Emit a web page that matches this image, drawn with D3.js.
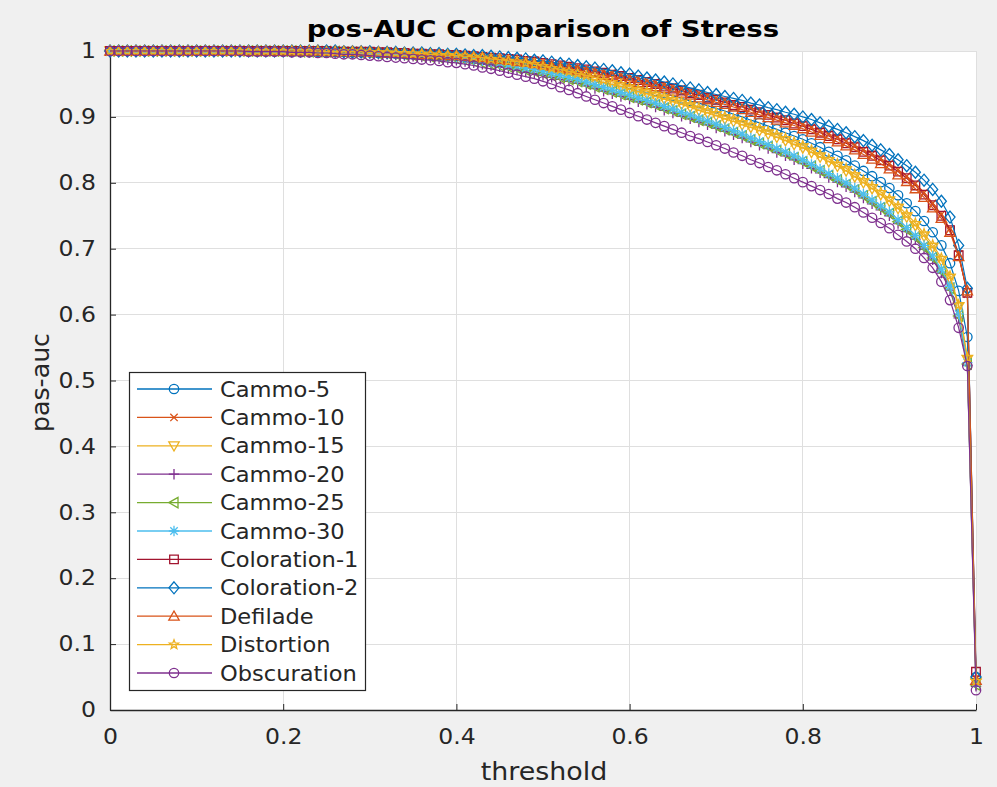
<!DOCTYPE html>
<html><head><meta charset="utf-8">
<script src="https://cdn.jsdelivr.net/npm/d3@7/dist/d3.min.js"></script>
<style>body{margin:0;background:#f0f0f0;}svg{display:block;font-family:"DejaVu Sans",sans-serif;}</style>
</head><body>
<svg id="chart" width="997" height="787"></svg>
<script>
const thresholds = [0,0.01,0.02,0.03,0.04,0.05,0.06,0.07,0.08,0.09,
0.1,0.11,0.12,0.13,0.14,0.15,0.16,0.17,0.18,0.19,
0.2,0.21,0.22,0.23,0.24,0.25,0.26,0.27,0.28,0.29,
0.3,0.31,0.32,0.33,0.34,0.35,0.36,0.37,0.38,0.39,
0.4,0.41,0.42,0.43,0.44,0.45,0.46,0.47,0.48,0.49,
0.5,0.51,0.52,0.53,0.54,0.55,0.56,0.57,0.58,0.59,
0.6,0.61,0.62,0.63,0.64,0.65,0.66,0.67,0.68,0.69,
0.7,0.71,0.72,0.73,0.74,0.75,0.76,0.77,0.78,0.79,
0.8,0.81,0.82,0.83,0.84,0.85,0.86,0.87,0.88,0.89,
0.9,0.91,0.92,0.93,0.94,0.95,0.96,0.97,0.98,0.99,1];

const seriesNames = ["Cammo-5","Cammo-10","Cammo-15","Cammo-20","Cammo-25","Cammo-30","Coloration-1","Coloration-2","Defilade","Distortion","Obscuration"];
const seriesColors = ["#0072BD","#D95319","#EDB120","#7E2F8E","#77AC30","#4DBEEE","#A2142F","#0072BD","#D95319","#EDB120","#7E2F8E"];
const seriesMarkers = ["o","x","v","+","<","*","s","d","^","p","o"];

const cammo5 = [1,1,1,1,1,1,1,1,1,1, 1,1,1,1,1,1,1,1,1,1,
1,1,1,1,0.999,0.999,0.999,0.999,0.998,0.998,
0.998,0.997,0.997,0.996,0.996,0.995,0.995,0.994,0.993,0.993,
0.992,0.991,0.990,0.988,0.987,0.986,0.984,0.983,0.981,0.979,
0.977,0.975,0.973,0.970,0.968,0.965,0.962,0.959,0.956,0.953,
0.950,0.946,0.943,0.939,0.936,0.932,0.928,0.924,0.921,0.917,
0.913,0.909,0.904,0.900,0.895,0.891,0.886,0.881,0.876,0.871,
0.866,0.860,0.854,0.847,0.841,0.834,0.826,0.818,0.810,0.801,
0.792,0.781,0.769,0.757,0.742,0.725,0.705,0.678,0.636,0.566,
0.050];
const cammo10 = [1,1,1,1,1,1,1,1,1,1, 1,1,1,1,1,1,1,1,1,1,
1,1,1,1,1,1,1,0.999,0.999,0.999,
0.999,0.999,0.998,0.998,0.997,0.997,0.996,0.996,0.995,0.995,
0.995,0.994,0.993,0.992,0.991,0.990,0.989,0.988,0.987,0.986,
0.984,0.982,0.980,0.978,0.976,0.974,0.972,0.969,0.967,0.964,
0.962,0.959,0.956,0.953,0.949,0.946,0.943,0.939,0.936,0.932,
0.929,0.925,0.921,0.918,0.914,0.910,0.906,0.902,0.898,0.893,
0.889,0.884,0.879,0.874,0.869,0.863,0.857,0.850,0.844,0.837,
0.829,0.820,0.810,0.799,0.785,0.769,0.752,0.730,0.692,0.631,
0.048];
const cammo15 = [1,1,1,1,1,1,1,1,1,1, 1,1,1,1,1,1,1,1,1,1,
1,1,1,0.999,0.999,0.999,0.999,0.999,0.998,0.998,
0.998,0.997,0.997,0.996,0.995,0.995,0.994,0.993,0.993,0.992,
0.991,0.990,0.988,0.987,0.985,0.984,0.982,0.980,0.978,0.976,
0.973,0.970,0.968,0.965,0.962,0.959,0.956,0.952,0.949,0.946,
0.942,0.938,0.935,0.931,0.927,0.923,0.919,0.915,0.910,0.906,
0.902,0.897,0.893,0.888,0.884,0.879,0.874,0.869,0.864,0.858,
0.853,0.846,0.839,0.832,0.825,0.818,0.809,0.800,0.791,0.782,
0.772,0.761,0.748,0.735,0.719,0.702,0.682,0.655,0.612,0.532,
0.042];
const cammo20 = [1,1,1,1,1,1,1,1,1,1, 1,1,1,1,1,1,1,1,1,1,
1,1,0.999,0.999,0.999,0.998,0.998,0.998,0.997,0.997,
0.996,0.995,0.995,0.994,0.993,0.992,0.991,0.990,0.988,0.987,
0.986,0.984,0.982,0.980,0.978,0.976,0.973,0.971,0.968,0.966,
0.963,0.960,0.957,0.954,0.951,0.947,0.943,0.939,0.935,0.931,
0.927,0.923,0.919,0.915,0.910,0.906,0.901,0.897,0.892,0.888,
0.883,0.878,0.873,0.868,0.862,0.857,0.852,0.846,0.841,0.835,
0.829,0.822,0.815,0.808,0.801,0.794,0.786,0.777,0.768,0.759,
0.750,0.738,0.726,0.714,0.699,0.683,0.663,0.637,0.595,0.523,
0.036];
const cammo25 = [1,1,1,1,1,1,1,1,1,1, 1,1,1,1,1,1,1,1,1,1,
1,1,0.999,0.999,0.999,0.999,0.999,0.998,0.998,0.997,
0.997,0.996,0.996,0.995,0.994,0.993,0.992,0.991,0.990,0.989,
0.988,0.986,0.984,0.982,0.980,0.978,0.976,0.974,0.971,0.969,
0.966,0.963,0.960,0.957,0.954,0.950,0.946,0.942,0.938,0.934,
0.930,0.926,0.922,0.918,0.913,0.909,0.904,0.900,0.895,0.891,
0.886,0.881,0.876,0.871,0.865,0.860,0.855,0.849,0.844,0.838,
0.832,0.825,0.818,0.811,0.804,0.797,0.789,0.780,0.771,0.762,
0.753,0.741,0.729,0.717,0.702,0.686,0.666,0.640,0.598,0.525,
0.038];
const cammo30 = [1,1,1,1,1,1,1,1,1,1, 1,1,1,1,1,1,1,1,1,1,
1,1,1,0.999,0.999,0.999,0.999,0.999,0.998,0.998,
0.998,0.997,0.997,0.996,0.995,0.995,0.994,0.993,0.992,0.991,
0.990,0.988,0.987,0.985,0.983,0.981,0.979,0.977,0.974,0.972,
0.969,0.966,0.963,0.960,0.957,0.953,0.949,0.945,0.941,0.937,
0.933,0.929,0.925,0.921,0.916,0.912,0.907,0.903,0.898,0.894,
0.889,0.884,0.879,0.874,0.868,0.863,0.858,0.852,0.847,0.841,
0.835,0.828,0.821,0.814,0.807,0.800,0.792,0.783,0.774,0.765,
0.756,0.744,0.732,0.720,0.705,0.689,0.669,0.643,0.601,0.527,
0.040];
const coloration1 = [1,1,1,1,1,1,1,1,1,1, 1,1,1,1,1,1,1,1,1,1,
1,1,1,1,1,1,0.999,0.999,0.999,0.999,
0.999,0.998,0.998,0.997,0.997,0.996,0.996,0.995,0.995,0.994,
0.994,0.993,0.992,0.991,0.990,0.989,0.988,0.987,0.985,0.984,
0.982,0.980,0.978,0.976,0.974,0.972,0.969,0.967,0.964,0.962,
0.959,0.956,0.953,0.950,0.946,0.943,0.940,0.936,0.933,0.929,
0.926,0.922,0.918,0.915,0.911,0.907,0.903,0.899,0.895,0.890,
0.886,0.881,0.876,0.871,0.866,0.860,0.854,0.847,0.841,0.834,
0.826,0.817,0.807,0.796,0.782,0.766,0.750,0.728,0.690,0.633,
0.058];
const coloration2 = [1,1,1,1,1,1,1,1,1,1, 1,1,1,1,1,1,1,1,1,1,
1,1,1,1,1,1,1,0.999,0.999,0.999,
0.999,0.998,0.998,0.998,0.997,0.997,0.997,0.996,0.996,0.995,
0.995,0.994,0.993,0.993,0.992,0.991,0.990,0.989,0.988,0.986,
0.985,0.983,0.981,0.980,0.978,0.976,0.974,0.972,0.970,0.967,
0.965,0.962,0.959,0.956,0.953,0.950,0.947,0.944,0.941,0.937,
0.934,0.931,0.928,0.925,0.921,0.918,0.914,0.911,0.907,0.904,
0.900,0.896,0.891,0.886,0.881,0.876,0.870,0.864,0.857,0.850,
0.843,0.835,0.826,0.816,0.804,0.790,0.772,0.748,0.705,0.640,
0.050];
const defilade = [1,1,1,1,1,1,1,1,1,1, 1,1,1,1,1,1,1,1,1,1,
1,1,1,1,1,0.999,0.999,0.999,0.999,0.999,
0.998,0.998,0.997,0.997,0.996,0.996,0.995,0.995,0.994,0.993,
0.993,0.992,0.991,0.990,0.988,0.987,0.986,0.984,0.983,0.981,
0.979,0.977,0.975,0.973,0.971,0.968,0.966,0.963,0.961,0.958,
0.955,0.952,0.949,0.946,0.943,0.939,0.936,0.933,0.929,0.926,
0.922,0.919,0.915,0.911,0.907,0.903,0.899,0.895,0.891,0.887,
0.882,0.877,0.872,0.867,0.862,0.856,0.850,0.843,0.836,0.829,
0.821,0.812,0.802,0.791,0.778,0.762,0.746,0.725,0.688,0.636,
0.045];
const distortion = [1,1,1,1,1,1,1,1,1,1, 1,1,1,1,1,1,1,1,1,1,
1,1,1,1,1,0.999,0.999,0.999,0.999,0.999,
0.998,0.998,0.998,0.997,0.997,0.996,0.996,0.995,0.994,0.994,
0.993,0.992,0.991,0.990,0.988,0.987,0.985,0.984,0.982,0.980,
0.977,0.974,0.972,0.969,0.966,0.963,0.960,0.956,0.953,0.950,
0.946,0.942,0.939,0.935,0.931,0.927,0.923,0.919,0.914,0.910,
0.906,0.901,0.897,0.892,0.888,0.883,0.878,0.873,0.868,0.862,
0.857,0.850,0.843,0.836,0.829,0.822,0.813,0.804,0.795,0.786,
0.776,0.765,0.752,0.739,0.723,0.706,0.686,0.659,0.615,0.535,
0.044];
const obscuration = [1,1,1,1,1,1,1,1,1,1,
1,1,1,1,1,1,0.999,0.999,0.999,0.999,
0.999,0.998,0.998,0.998,0.997,0.997,0.996,0.995,0.995,0.994,
0.993,0.992,0.991,0.990,0.989,0.988,0.987,0.986,0.985,0.983,
0.982,0.980,0.978,0.975,0.973,0.970,0.967,0.964,0.961,0.958,
0.954,0.950,0.945,0.941,0.936,0.931,0.926,0.921,0.916,0.911,
0.906,0.901,0.896,0.891,0.886,0.881,0.876,0.871,0.867,0.862,
0.857,0.852,0.846,0.841,0.835,0.830,0.824,0.819,0.813,0.807,
0.801,0.795,0.789,0.783,0.776,0.770,0.763,0.755,0.747,0.739,
0.731,0.721,0.711,0.700,0.686,0.671,0.650,0.622,0.580,0.522,
0.030];

const seriesValues = [cammo5,cammo10,cammo15,cammo20,cammo25,cammo30,coloration1,coloration2,defilade,distortion,obscuration];
const xTicks = [0,0.2,0.4,0.6,0.8,1];
const xTickLabels = ["0","0.2","0.4","0.6","0.8","1"];
const yTicks = [0,0.1,0.2,0.3,0.4,0.5,0.6,0.7,0.8,0.9,1];
const yTickLabels = ["0","0.1","0.2","0.3","0.4","0.5","0.6","0.7","0.8","0.9","1"];

const W = 997, H = 787;
const m = {left:110, right:976, top:51, bottom:710};
const svg = d3.select("#chart");
svg.append("rect").attr("width",W).attr("height",H).attr("fill","#f0f0f0");
svg.append("rect").attr("x",m.left).attr("y",m.top).attr("width",m.right-m.left).attr("height",m.bottom-m.top).attr("fill","#ffffff");

const x = d3.scaleLinear().domain([0,1]).range([m.left,m.right]);
const y = d3.scaleLinear().domain([0,1]).range([m.bottom,m.top]);

// horizontally widen text (reference glyphs are wider than DejaVu at same height)
function widen(sel, k){
  sel.each(function(){
    const L = this.getComputedTextLength();
    this.setAttribute("textLength", (L*k).toFixed(1));
    this.setAttribute("lengthAdjust","spacingAndGlyphs");
  });
}

// grid
const grid = svg.append("g");
grid.selectAll(".gx").data(xTicks).enter().append("line")
  .attr("x1",d=>x(d)).attr("x2",d=>x(d)).attr("y1",m.top).attr("y2",m.bottom)
  .attr("stroke","#dfdfdf").attr("stroke-width",1).attr("shape-rendering","crispEdges");
grid.selectAll(".gy").data(yTicks).enter().append("line")
  .attr("y1",d=>y(d)).attr("y2",d=>y(d)).attr("x1",m.left).attr("x2",m.right)
  .attr("stroke","#dfdfdf").attr("stroke-width",1).attr("shape-rendering","crispEdges");

// axes
const axisColor = "#262626";
const gx = svg.append("g").attr("transform",`translate(0,${m.bottom})`)
  .call(d3.axisBottom(x).tickValues(xTicks).tickFormat((d,i)=>xTickLabels[i]).tickSizeInner(-6).tickSizeOuter(0).tickPadding(19));
const gy = svg.append("g").attr("transform",`translate(${m.left},0)`)
  .call(d3.axisLeft(y).tickValues(yTicks).tickFormat((d,i)=>yTickLabels[i]).tickSizeInner(-6).tickSizeOuter(0).tickPadding(14));
[gx,gy].forEach(g=>{
  g.select(".domain").attr("stroke",axisColor).attr("stroke-width",1.3);
  g.selectAll(".tick line").attr("stroke",axisColor).attr("stroke-width",1);
  g.selectAll(".tick text").attr("fill","#262626").attr("font-size",21).attr("font-family","DejaVu Sans");
  widen(g.selectAll(".tick text"),1.12);
});

// marker paths
function markerPath(type){
  const p = d3.path();
  switch(type){
    case "o": p.moveTo(4.7,0); p.arc(0,0,4.7,0,2*Math.PI); break;
    case "x": p.moveTo(-3.7,-3.7); p.lineTo(3.7,3.7); p.moveTo(-3.7,3.7); p.lineTo(3.7,-3.7); break;
    case "v": p.moveTo(-5.2,-4); p.lineTo(5.2,-4); p.lineTo(0,5.2); p.closePath(); break;
    case "+": p.moveTo(-5.2,0); p.lineTo(5.2,0); p.moveTo(0,-5.2); p.lineTo(0,5.2); break;
    case "<": p.moveTo(4,-5.2); p.lineTo(4,5.2); p.lineTo(-5.2,0); p.closePath(); break;
    case "*": p.moveTo(-5.2,0); p.lineTo(5.2,0); p.moveTo(0,-5.2); p.lineTo(0,5.2);
              p.moveTo(-3.7,-3.7); p.lineTo(3.7,3.7); p.moveTo(-3.7,3.7); p.lineTo(3.7,-3.7); break;
    case "s": p.rect(-4.3,-4.3,8.6,8.6); break;
    case "d": p.moveTo(0,-6); p.lineTo(5,0); p.lineTo(0,6); p.lineTo(-5,0); p.closePath(); break;
    case "^": p.moveTo(-5.2,4); p.lineTo(5.2,4); p.lineTo(0,-5.2); p.closePath(); break;
    case "p": {
      const R=4.8, r=2;
      for(let k=0;k<10;k++){
        const a = -Math.PI/2 + k*Math.PI/5, rr = k%2===0?R:r;
        const px = rr*Math.cos(a), py = rr*Math.sin(a);
        if(k===0) p.moveTo(px,py); else p.lineTo(px,py);
      }
      p.closePath(); break;
    }
  }
  return p.toString();
}

const line = d3.line().x(d=>x(d[0])).y(d=>y(d[1]));
const plot = svg.append("g");
seriesNames.forEach((name,i)=>{
  const pts = thresholds.map((t,j)=>[t,seriesValues[i][j]]);
  const g = plot.append("g");
  g.append("path").attr("d",line(pts)).attr("fill","none").attr("stroke",seriesColors[i]).attr("stroke-width",1.2);
  g.selectAll("path.mk").data(pts).enter().append("path").attr("class","mk")
    .attr("d",markerPath(seriesMarkers[i]))
    .attr("transform",d=>`translate(${x(d[0])},${y(d[1])})`)
    .attr("fill","none").attr("stroke",seriesColors[i]).attr("stroke-width",1.3);
});

// title and labels
const title = svg.append("text").attr("x",(m.left+m.right)/2).attr("y",37).attr("text-anchor","middle")
  .attr("font-size",23).attr("font-weight","bold").attr("fill","#000").text("pos-AUC Comparison of Stress");
widen(title,1.2);
const xl = svg.append("text").attr("x",(m.left+m.right)/2+1).attr("y",780).attr("text-anchor","middle")
  .attr("font-size",24).attr("fill","#262626").text("threshold");
widen(xl,1.12);
const yl = svg.append("text").attr("transform",`translate(49,${(m.top+m.bottom)/2+2}) rotate(-90)`).attr("text-anchor","middle")
  .attr("font-size",24).attr("fill","#262626").text("pas-auc");
widen(yl,1.05);

// legend
const lg = svg.append("g");
lg.append("rect").attr("x",129.5).attr("y",372.5).attr("width",236).attr("height",318)
  .attr("fill","#ffffff").attr("stroke","#262626").attr("stroke-width",1.2);
seriesNames.forEach((name,i)=>{
  const yy = 389 + i*28.4;
  lg.append("line").attr("x1",137).attr("x2",212).attr("y1",yy).attr("y2",yy).attr("stroke",seriesColors[i]).attr("stroke-width",1.3);
  lg.append("path").attr("d",markerPath(seriesMarkers[i])).attr("transform",`translate(174,${yy})`)
    .attr("fill","none").attr("stroke",seriesColors[i]).attr("stroke-width",1.3);
  const t = lg.append("text").attr("x",220).attr("y",yy+7.5).attr("font-size",20.5).attr("fill","#262626").text(name);
  widen(t,1.1);
});
</script>
</body></html>
